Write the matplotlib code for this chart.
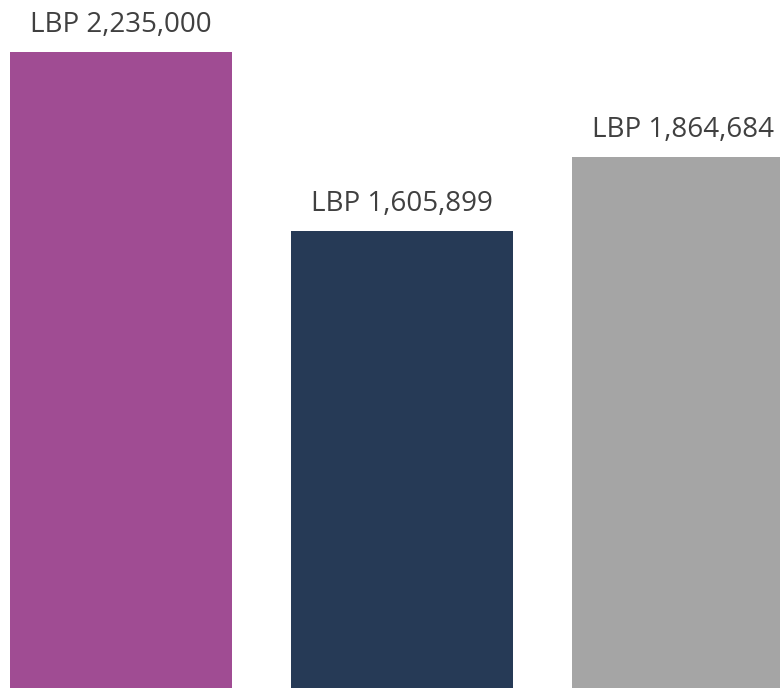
import matplotlib.pyplot as plt

labels = ['LBP 2,235,000', 'LBP 1,605,899', 'LBP 1,864,684']
values = [2235000, 1605899, 1864684]
colors = ['#A04C93', '#263A56', '#A5A5A5']

fig = plt.figure(figsize=(7.8, 6.88), dpi=100)
ax = fig.add_axes([0, 0, 1, 1])

x = range(len(values))
ax.bar(x, values, width=0.79, color=colors)
for xi, v, lab in zip(x, values, labels):
    ax.text(xi, v + 70000, lab, ha='center', va='baseline',
            fontsize=20, color='#404040', family='Open Sans')

ax.set_xlim(-0.4306, 2.345)
ax.set_ylim(0, 2417736)
ax.axis('off')

plt.savefig('out.png', dpi=100)
